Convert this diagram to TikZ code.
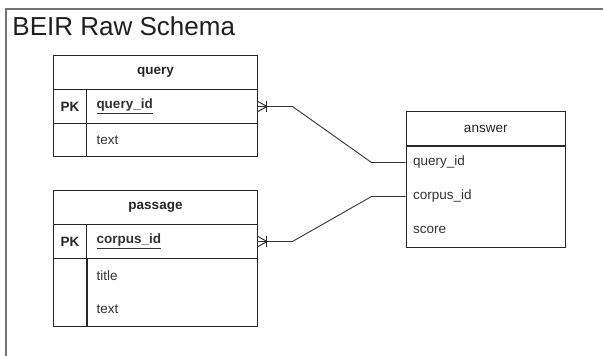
\documentclass[tikz,border=0pt]{standalone}
\usepackage{fontspec}
\setmainfont{Liberation Sans}
\begin{document}
\begin{tikzpicture}[x=1pt,y=-1pt,
  font=\fontsize{13.5}{16}\selectfont,
  line width=1pt,
  frame/.style={draw=black!55, line width=1.4pt},
  cell/.style={draw=black!85, anchor=north west, inner xsep=0pt, inner ysep=0pt, text=black!85},
  fieldcell/.style={anchor=north west, inner xsep=10pt, inner ysep=0pt, align=left, text=black!80},
  keycell/.style={cell, minimum width=33pt},
  link/.style={draw=black!80, line width=0.9pt},
  foot/.style={draw=black!85, line width=0.9pt}]
\useasboundingbox (0,0) rectangle (603,356);
\fill[white] (0,0) rectangle (603,356);

% outer frame and title
\draw[frame] (6,360) -- (6,9) -- (610,9);
\node[anchor=west, inner sep=0pt, font=\fontsize{26}{30}\selectfont, text=black!88] (title) at (12,26) {BEIR Raw Schema};

% table: query
\node[cell, minimum width=204pt, minimum height=34pt] (qhead) at (53,55) {\textbf{query}};
\node[keycell, minimum height=34pt] (qkey) at (53,89) {\textbf{PK}};
\node[fieldcell, draw=black!85, text width=151pt, minimum height=34pt] (qpk) at (86,89) {\textbf{\underline{query\_id}}};
\node[keycell, minimum height=33pt] (qkey2) at (53,123) {};
\node[fieldcell, draw=black!85, text width=151pt, minimum height=33pt] (qtext) at (86,123) {text};

% table: passage
\node[cell, minimum width=204pt, minimum height=34pt] (phead) at (53,190) {\textbf{passage}};
\node[keycell, minimum height=34pt] (pkey) at (53,224) {\textbf{PK}};
\node[fieldcell, draw=black!85, text width=151pt, minimum height=34pt] (ppk) at (86,224) {\textbf{\underline{corpus\_id}}};
\node[keycell, minimum height=68pt] (pkey2) at (53,258) {};
\node[fieldcell, text width=151pt, minimum height=34pt] (ptitle) at (86,258) {title};
\node[fieldcell, text width=151pt, minimum height=34pt] (ptext) at (86,292) {text};
\draw[draw=black!85] (pkey2.north east) rectangle (257,326);

% table: answer
\node[cell, minimum width=159.5pt, minimum height=34pt] (ahead) at (405.5,111) {answer};
\node[cell, minimum width=159.5pt, minimum height=101.5pt] (abody) at (405.5,145) {};
\draw[draw=black!85, line width=1.6pt] (ahead.south west) -- (ahead.south east);
\node[fieldcell, inner xsep=7pt, text width=145.5pt, minimum height=34pt] (aq) at (405.5,145) {query\_id};
\node[fieldcell, inner xsep=7pt, text width=145.5pt, minimum height=34pt] (ac) at (405.5,179) {corpus\_id};
\node[fieldcell, inner xsep=7pt, text width=145.5pt, minimum height=33pt] (as) at (405.5,213) {score};

% relationships
\draw[link] (qpk.east) -- ++(34.5,0) -- ([xshift=-34pt]aq.west) -- (aq.west);
\draw[link] (ppk.east) -- ++(34.5,0) -- ([xshift=-34pt]ac.west) -- (ac.west);

% one-or-many ends
\draw[foot] ([yshift=-5pt]qpk.east) -- ([xshift=9pt]qpk.east) -- ([yshift=5pt]qpk.east);
\draw[foot] ([xshift=8pt,yshift=-5.5pt]qpk.east) -- ([xshift=8pt,yshift=5.5pt]qpk.east);
\draw[foot] ([yshift=-5pt]ppk.east) -- ([xshift=9pt]ppk.east) -- ([yshift=5pt]ppk.east);
\draw[foot] ([xshift=8pt,yshift=-5.5pt]ppk.east) -- ([xshift=8pt,yshift=5.5pt]ppk.east);
\end{tikzpicture}
\end{document}
